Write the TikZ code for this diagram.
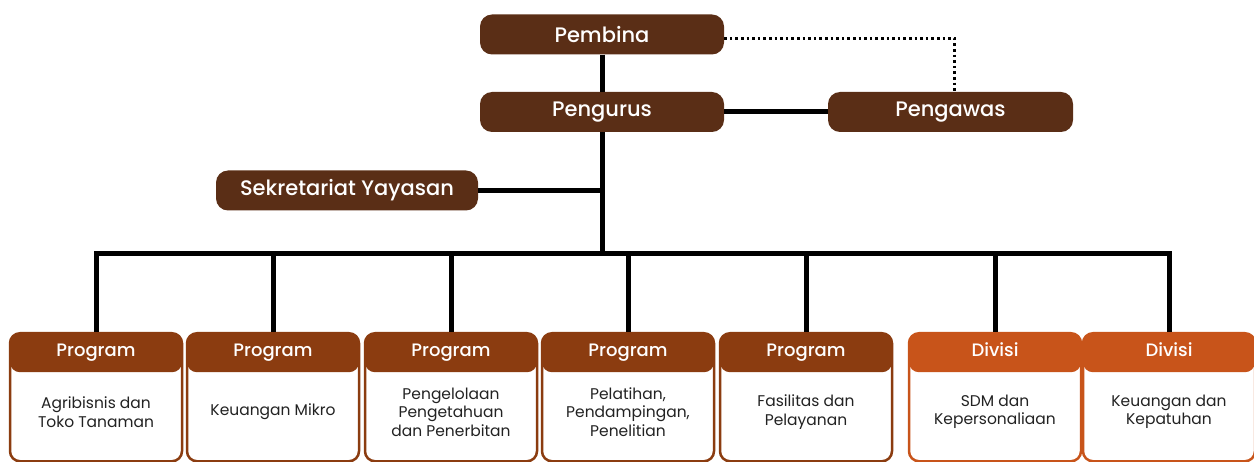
\documentclass[tikz,border=0pt]{standalone}
\usepackage{fontspec}
\setmainfont{Poppins}[BoldFont={Poppins Medium}]
\usepackage{tikz}

\definecolor{topbrown}{RGB}{90,46,22}
\definecolor{prog}{RGB}{139,60,16}
\definecolor{divisi}{RGB}{200,84,26}
\definecolor{bodytext}{RGB}{34,34,34}

\tikzset{
  headbox/.style={rounded corners=12pt, fill=topbrown, text=white, minimum height=40pt,
    font=\bfseries\fontsize{21}{24}\selectfont},
  unit/.style={draw=#1, line width=2.5pt, fill=white, rounded corners=10pt,
    minimum width=172pt, minimum height=128pt, anchor=north,
    path picture={\fill[#1] (path picture bounding box.north west) rectangle ([yshift=-39pt]path picture bounding box.north east);}},
  unithead/.style={text=white, text height=13pt, text depth=4pt, font=\bfseries\fontsize{18}{21}\selectfont},
  unitbody/.style={text=bodytext, align=center, font=\fontsize{15.5}{18.5}\selectfont},
  link/.style={line width=5pt, black},
  dots/.style={line width=2.6pt, black, dash pattern=on 2.6pt off 3pt}
}

\begin{document}
\begin{tikzpicture}[x=1pt, y=-1pt]
\useasboundingbox (0,0) rectangle (1254,462);

\node[headbox, minimum width=244pt] (pembina) at (602,34.5) {Pembina};
\node[headbox, minimum width=244pt] (pengurus) at (602,112) {Pengurus};
\node[headbox, minimum width=245pt] (pengawas) at (950.5,112) {Pengawas};
\node[headbox, minimum width=262pt] (sekretariat) at (347,190.5) {Sekretariat Yayasan};

\coordinate (hub) at (602,254);

% units
\foreach \x/\n/\c/\h/\t in {
  96/p1/prog/Program/{Agribisnis dan\\Toko Tanaman},
  273/p2/prog/Program/{Keuangan Mikro},
  451/p3/prog/Program/{Pengelolaan\\Pengetahuan\\dan Penerbitan},
  628/p4/prog/Program/{Pelatihan,\\Pendampingan,\\Penelitian},
  806/p5/prog/Program/{Fasilitas dan\\Pelayanan},
  995/p6/divisi/Divisi/{SDM dan\\Kepersonaliaan},
  1169/p7/divisi/Divisi/{Keuangan dan\\Kepatuhan}}
{
  \node[unit=\c] (\n) at (\x,332) {};
  \node[unithead] (\n h) at ([yshift=-20pt]\n.north) {\h};
  \node[unitbody] (\n b) at ([yshift=-80pt]\n.north) {\t};
}

% connectors
\draw[link] (pembina) -- (pengurus);
\draw[link] (pengurus) -- (pengawas);
\draw[link] (pengurus) -- (hub);
\draw[link] (sekretariat.east) -- (sekretariat.east -| hub);
\draw[link, line join=miter] (p1.north) |- (hub) -| (p7.north);
\foreach \n in {p2,p3,p4,p5,p6}
  \draw[link] (\n.north |- hub) -- (\n.north);
\draw[dots] ([yshift=-4pt]pembina.east) -| ([xshift=4pt]pengawas.north);

\end{tikzpicture}
\end{document}
